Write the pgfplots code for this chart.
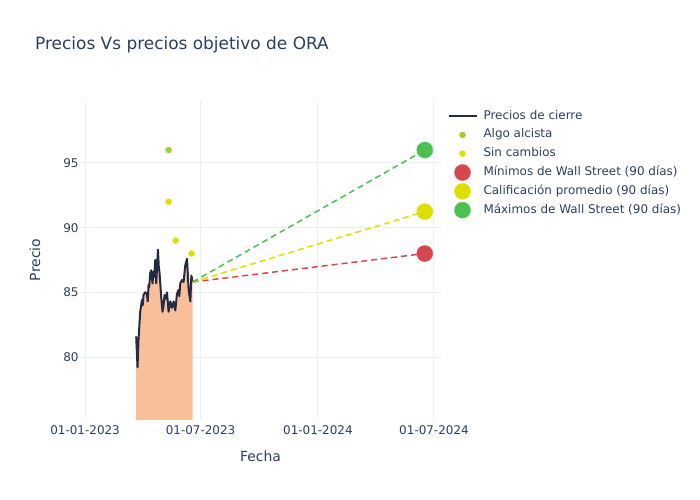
\documentclass[border=0pt]{standalone}
\usepackage{pgfplots}
\pgfplotsset{compat=1.18}
\usepackage{fontspec}
\setmainfont{DejaVu Sans}
\definecolor{txt}{HTML}{2A3F5F}
\definecolor{gridc}{HTML}{EBF0F8}
\definecolor{closec}{HTML}{232B45}
\definecolor{fillc}{RGB}{249,191,154}
\definecolor{redc}{HTML}{D6474F}
\definecolor{yelc}{HTML}{DEDE00}
\definecolor{grnc}{HTML}{4CC150}
\definecolor{lgrn}{HTML}{9AD22A}

\pgfplotsset{
  lineleg/.style={legend image code/.code={\path[draw=none,fill=none] (0bp,-3bp) rectangle (28bp,3bp); \draw[##1] (0bp,0bp) -- (28bp,0bp);}},
  markleg/.style={legend image code/.code={\path[draw=none,fill=none] (0bp,-3bp) rectangle (28bp,3bp); \draw[##1, overlay] plot coordinates {(14bp,0bp)};}},
}

\pgfplotstableread{
d p
80.1 81.6
82.2 79.2
83.7 81.3
86.4 83.5
89.1 84.4
90.3 84.0
91.6 84.8
94.3 85.0
96.9 84.9
98.2 84.3
99.5 85.6
100.5 85.4
102.1 86.5
103.7 86.7
105.7 85.7
107.3 86.6
108.4 86.2
110.0 87.5
111.5 85.7
114.2 88.3
115.5 87.0
116.7 86.5
119.4 84.6
121.4 83.5
123.0 84.0
124.6 84.8
126.5 84.5
128.4 85.0
130.9 83.5
133.5 84.3
136.2 83.8
138.7 84.3
141.4 83.6
144.1 84.9
146.6 85.2
147.7 84.7
149.3 85.7
151.9 85.95
154.4 85.8
157.1 87.1
159.8 87.6
162.3 85.2
165.0 84.3
166.6 86.3
168.6 85.8
}\closes

\begin{document}
\begin{tikzpicture}
\path[use as bounding box] (0,0) rectangle (700bp,500bp);
\node[anchor=west, font=\fontsize{17}{20}\selectfont, text=txt, inner sep=0pt] at (35bp,455bp) {Precios Vs precios objetivo de ORA};
\begin{axis}[
  at={(80bp,80bp)}, anchor=south west,
  scale only axis, width=361bp, height=320bp,
  xmin=-8, xmax=558, ymin=75.13, ymax=99.87,
  xtick={0,181,365,547},
  xticklabels={01-01-2023,01-07-2023,01-01-2024,01-07-2024},
  ytick={80,85,90,95},
  grid=major, major grid style={gridc, line width=1bp},
  axis line style={draw=none}, major tick length=0pt,
  tick label style={font=\fontsize{12}{14}\selectfont, text=txt},
  /pgf/number format/assume math mode=true,
  yticklabel style={xshift=2bp},
  xticklabel style={yshift=-2bp},
  xlabel={Fecha}, ylabel={Precio},
  label style={font=\fontsize{14}{16}\selectfont, text=txt},
  xlabel style={at={(axis description cs:0.5,-0.1125)}, anchor=center},
  ylabel style={at={(axis description cs:-0.1247,0.5)}, anchor=center},
  legend style={at={(1.0175,0.969)}, anchor=north west, draw=none, fill=none,
    font=\fontsize{12}{14}\selectfont, text=txt, row sep=6.8bp, column sep=6bp,
    inner sep=0pt,
    nodes={inner sep=0pt, anchor=west, text height=9bp, text depth=3bp}},
  legend cell align=left,
  clip=true,
]
\addplot[fill=fillc, draw=none, forget plot] table[x=d,y=p]{\closes} \closedcycle;
\addplot[closec, line width=2bp, line join=round, lineleg]
  table[x=d,y=p]{\closes};
\addlegendentry{Precios de cierre}
\addplot[redc, line width=1.5bp, dash pattern=on 6bp off 4bp, forget plot] coordinates {(168.6,85.8) (532.6,88.0)};
\addplot[yelc, line width=1.5bp, dash pattern=on 6bp off 4bp, forget plot] coordinates {(168.6,85.8) (532.6,91.24)};
\addplot[grnc, line width=1.5bp, dash pattern=on 6bp off 4bp, forget plot] coordinates {(168.6,85.8) (532.6,96.0)};
\addplot[only marks, mark=*, mark size=3bp, lgrn, mark options={draw=none, fill=lgrn}, markleg]
  coordinates {(130.9,96.0)};
\addlegendentry{Algo alcista}
\addplot[only marks, mark=*, mark size=3bp, yelc, mark options={draw=none, fill=yelc}, markleg]
  coordinates {(130.9,92.0) (141.9,89.0) (167.0,88.0)};
\addlegendentry{Sin cambios}
\addplot[only marks, mark=*, mark size=8bp, redc, mark options={draw=none, fill=redc}, markleg]
  coordinates {(532.6,88.0)};
\addlegendentry{Mínimos de Wall Street (90 días)}
\addplot[only marks, mark=*, mark size=8bp, yelc, mark options={draw=none, fill=yelc}, markleg]
  coordinates {(532.6,91.24)};
\addlegendentry{Calificación promedio (90 días)}
\addplot[only marks, mark=*, mark size=8bp, grnc, mark options={draw=none, fill=grnc}, markleg]
  coordinates {(532.6,96.0)};
\addlegendentry{Máximos de Wall Street (90 días)}
\end{axis}
\end{tikzpicture}
\end{document}
